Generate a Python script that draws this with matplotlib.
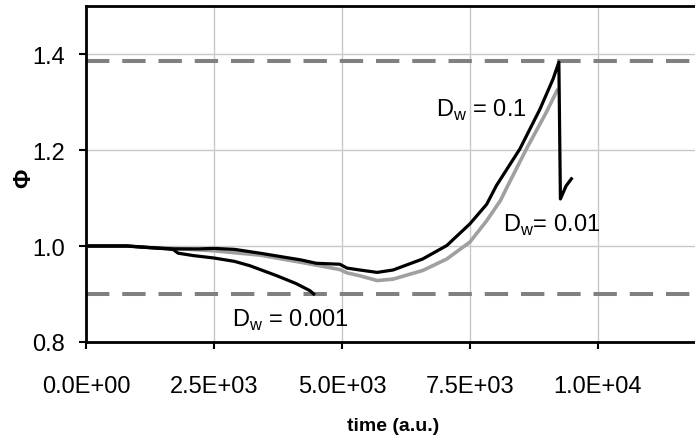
import matplotlib
matplotlib.use("Agg")
import matplotlib.pyplot as plt

# ---- data ----
t_d01 = [0, 800, 1200, 1700, 2200, 2500, 2900, 3400, 3800, 4200, 4500, 4960, 5100, 5350,
         5690, 6000, 6580, 7050, 7500, 7830, 8020, 8477, 8870, 9127, 9240, 9270, 9380, 9485]
phi_d01 = [1.0, 1.0, 0.997, 0.994, 0.994, 0.995, 0.993, 0.985, 0.978, 0.971, 0.964, 0.962, 0.954, 0.950,
           0.945, 0.950, 0.973, 1.001, 1.046, 1.087, 1.126, 1.202, 1.285, 1.348, 1.383, 1.098, 1.125, 1.14]

t_d001 = [0, 800, 1200, 1700, 2200, 2500, 3400, 4200, 4960, 5100, 5350, 5690, 6000, 6580,
          7050, 7500, 7825, 8100, 8215, 8605, 8997, 9205]
phi_d001 = [1.0, 1.0, 0.997, 0.995, 0.992, 0.990, 0.981, 0.966, 0.951, 0.944, 0.938, 0.928, 0.931, 0.949,
            0.973, 1.008, 1.052, 1.095, 1.120, 1.202, 1.279, 1.324]

t_d0001 = [0, 800, 1200, 1700, 1800, 2100, 2500, 2900, 3200, 3730, 4100, 4375, 4450]
phi_d0001 = [1.0, 1.0, 0.997, 0.993, 0.985, 0.980, 0.975, 0.968, 0.959, 0.938, 0.922, 0.907, 0.900]

upper_limit = 1.385
lower_limit = 0.90

x_ticks = [0, 2500, 5000, 7500, 10000]
x_tick_labels = ["0.0E+00", "2.5E+03", "5.0E+03", "7.5E+03", "1.0E+04"]
y_ticks = [0.8, 1.0, 1.2, 1.4]
y_tick_labels = ["0.8", "1.0", "1.2", "1.4"]

labels = ["D$_{\\mathregular{w}}$ = 0.1", "D$_{\\mathregular{w}}$= 0.01", "D$_{\\mathregular{w}}$ = 0.001"]
label_pos = [(6836, 1.285), (8145, 1.044), (2850, 0.848)]

# ---- plot ----
plt.rcParams['font.family'] = ['Liberation Sans', 'DejaVu Sans']
plt.rcParams['mathtext.fontset'] = 'custom'
plt.rcParams['mathtext.rm'] = 'Liberation Sans'

fig = plt.figure(figsize=(6.95, 4.39), dpi=100)
ax = fig.add_axes([86/695, 1 - 343/439, (695 - 86)/695, (343 - 7)/439])

ax.set_xlim(0, 11900)
ax.set_ylim(0.8, 1.5)

ax.grid(True, color="#c8c8c8", linewidth=1.0)
ax.set_axisbelow(True)

ax.axhline(upper_limit, color="#808080", linewidth=2.9, dashes=(5.8, 3.2), zorder=2)
ax.axhline(lower_limit, color="#808080", linewidth=2.9, dashes=(5.8, 3.2), zorder=2)

ax.plot(t_d001, phi_d001, color="#a0a0a0", linewidth=2.6, zorder=3)
ax.plot(t_d01, phi_d01, color="black", linewidth=2.3, zorder=4)
ax.plot(t_d0001, phi_d0001, color="black", linewidth=2.3, zorder=4)

for txt, (x, y) in zip(labels, label_pos):
    ax.text(x, y, txt, fontsize=17, va="center", ha="left", zorder=5)

ax.set_xticks(x_ticks)
ax.set_xticklabels(x_tick_labels)
ax.set_yticks(y_ticks)
ax.set_yticklabels(y_tick_labels)
ax.tick_params(axis="x", direction="out", length=5, width=1.5, pad=19, labelsize=17)
ax.tick_params(axis="y", direction="out", length=5, width=1.5, pad=10, labelsize=17)

for s in ["left", "bottom", "top"]:
    ax.spines[s].set_linewidth(2)
    ax.spines[s].set_color("black")
ax.spines["right"].set_visible(False)

ax.set_xlabel("time (a.u.)", fontsize=14, fontweight="bold")
ax.xaxis.set_label_coords(0.505, -0.222)
ax.set_ylabel("Φ", fontsize=17, fontweight="bold")
ax.yaxis.set_label_coords(-0.084, 0.49)

fig.savefig("out.png", dpi=100)
